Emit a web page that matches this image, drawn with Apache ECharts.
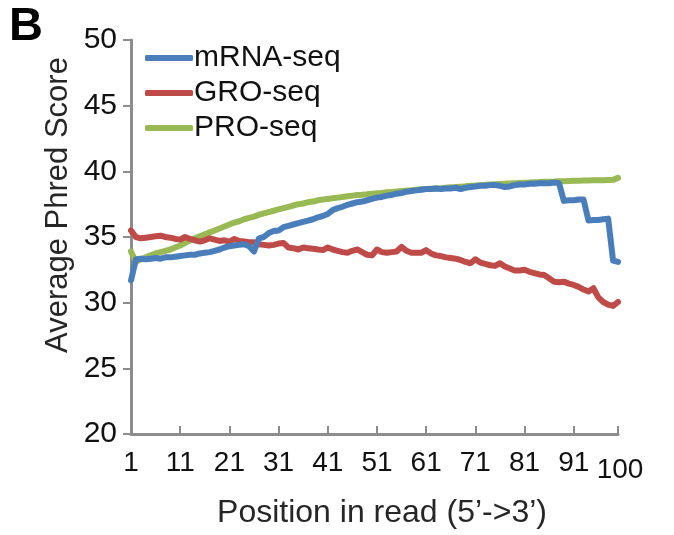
<!DOCTYPE html>
<html>
<head>
<meta charset="utf-8">
<title>Average Phred Score by read position</title>
<script src="https://cdn.jsdelivr.net/npm/echarts@6/dist/echarts.min.js"></script>
<style>
  html, body { margin: 0; padding: 0; background: #fff; }
  #chart { width: 674px; height: 535px; }
</style>
</head>
<body>
<div id="chart"></div>
<script>
// Read positions 1..100 along the x axis
const positions = [
  1,2,3,4,5,6,7,8,9,10,11,12,13,14,15,16,17,18,19,20,
  21,22,23,24,25,26,27,28,29,30,31,32,33,34,35,36,37,38,39,40,
  41,42,43,44,45,46,47,48,49,50,51,52,53,54,55,56,57,58,59,60,
  61,62,63,64,65,66,67,68,69,70,71,72,73,74,75,76,77,78,79,80,
  81,82,83,84,85,86,87,88,89,90,91,92,93,94,95,96,97,98,99,100
];

// Positions that carry a tick label
const labeledPositions = [1, 11, 21, 31, 41, 51, 61, 71, 81, 91, 100];

const yTicks = { min: 20, max: 50, step: 5 };

const mrnaSeq = [
  31.7,33.3,33.35,33.3,33.35,33.4,33.35,33.45,33.45,33.5,
  33.55,33.6,33.65,33.65,33.75,33.8,33.85,33.95,34.05,34.2,
  34.3,34.35,34.4,34.45,34.3,33.9,34.9,35.0,35.3,35.45,
  35.5,35.75,35.85,35.95,36.05,36.15,36.25,36.35,36.5,36.6,
  36.75,37.05,37.2,37.3,37.45,37.55,37.65,37.7,37.8,37.9,
  38.0,38.05,38.15,38.2,38.3,38.35,38.45,38.5,38.55,38.6,
  38.65,38.65,38.7,38.65,38.7,38.7,38.75,38.65,38.75,38.8,
  38.85,38.9,38.9,38.95,38.95,38.9,38.8,38.85,38.95,39.0,
  39.0,39.05,39.05,39.1,39.1,39.1,39.15,39.1,37.75,37.8,
  37.8,37.85,37.85,36.25,36.3,36.3,36.35,36.4,33.2,33.1
];

const groSeq = [
  35.5,35.0,34.9,34.95,35.0,35.05,35.1,35.0,34.95,34.85,
  34.8,35.0,34.85,34.75,34.65,34.75,34.9,34.8,34.7,34.75,
  34.65,34.85,34.7,34.65,34.6,34.6,34.45,34.4,34.35,34.4,
  34.5,34.55,34.2,34.15,34.05,34.2,34.15,34.1,34.05,34.0,
  34.2,34.05,33.95,33.85,33.8,33.95,34.05,33.85,33.65,33.6,
  34.05,33.85,33.8,33.85,33.9,34.25,33.95,33.8,33.8,33.8,
  34.0,33.75,33.6,33.55,33.45,33.4,33.35,33.25,33.1,33.0,
  33.3,33.05,32.95,32.85,32.8,33.0,32.75,32.6,32.45,32.45,
  32.5,32.35,32.25,32.15,32.1,31.85,31.6,31.55,31.6,31.45,
  31.35,31.2,31.0,30.85,31.1,30.4,30.05,29.85,29.75,30.05
];

const proSeq = [
  33.9,33.1,33.3,33.45,33.6,33.75,33.85,33.95,34.05,34.2,
  34.35,34.55,34.75,34.9,35.05,35.2,35.35,35.5,35.65,35.8,
  35.95,36.1,36.2,36.35,36.45,36.55,36.7,36.8,36.9,37.0,
  37.1,37.2,37.3,37.4,37.5,37.55,37.65,37.7,37.8,37.85,
  37.9,37.95,38.0,38.05,38.1,38.15,38.2,38.22,38.25,38.3,
  38.33,38.36,38.4,38.43,38.46,38.5,38.53,38.56,38.6,38.63,
  38.66,38.68,38.7,38.72,38.75,38.78,38.8,38.83,38.86,38.9,
  38.92,38.95,38.97,39.0,39.02,39.04,39.06,39.08,39.1,39.12,
  39.14,39.15,39.17,39.18,39.2,39.21,39.22,39.24,39.25,39.27,
  39.28,39.29,39.3,39.31,39.32,39.33,39.33,39.34,39.35,39.5
];

const seriesNames = ['mRNA-seq', 'GRO-seq', 'PRO-seq'];
const seriesColors = ['#4a7ebb', '#be4b48', '#98b954'];
const seriesValues = [mrnaSeq, groSeq, proSeq];

const FONT = '"Liberation Sans", Arial, Helvetica, sans-serif';
const AXIS_GRAY = '#8c8c8c';
const TEXT = '#111111';

const chart = echarts.init(document.getElementById('chart'), null, { renderer: 'canvas' });

const isLabeled = (idx) => labeledPositions.indexOf(positions[idx]) !== -1;

chart.setOption({
  animation: false,
  backgroundColor: '#ffffff',
  grid: { left: 131, right: 56, top: 40, bottom: 101, containLabel: false },
  legend: {
    orient: 'vertical',
    left: 140,
    top: 38,
    itemWidth: 48,
    itemHeight: 6,
    itemGap: 5,
    icon: 'roundRect',
    textStyle: { fontFamily: FONT, fontSize: 30, color: TEXT, padding: [0, 0, 0, -4] },
    data: seriesNames
  },
  xAxis: {
    type: 'category',
    data: positions.map(String),
    boundaryGap: false,
    axisLine: { lineStyle: { color: AXIS_GRAY, width: 3 } },
    axisTick: {
      inside: true,
      length: 8,
      interval: (idx) => isLabeled(idx),
      lineStyle: { color: AXIS_GRAY, width: 2 }
    },
    axisLabel: {
      interval: (idx) => isLabeled(idx),
      margin: 15,
      fontFamily: FONT,
      fontSize: 28,
      color: TEXT,
      formatter: (v) => (v === '100' ? '{last|100}' : v),
      rich: { last: { fontFamily: FONT, fontSize: 28, color: TEXT, padding: [7, 0, 0, 4] } }
    },
    splitLine: { show: false }
  },
  yAxis: {
    type: 'value',
    min: yTicks.min,
    max: yTicks.max,
    interval: yTicks.step,
    axisLine: { show: true, lineStyle: { color: AXIS_GRAY, width: 3 } },
    axisTick: { show: true, inside: false, length: 8, lineStyle: { color: AXIS_GRAY, width: 2 } },
    axisLabel: { margin: 14, fontFamily: FONT, fontSize: 30, color: TEXT },
    splitLine: { show: false }
  },
  graphic: [
    {
      type: 'text',
      left: 9,
      top: 4,
      style: { text: 'B', fontFamily: FONT, fontSize: 47, fontWeight: 'bold', fill: '#000' }
    },
    {
      type: 'text',
      x: 58,
      y: 205,
      rotation: Math.PI / 2,
      style: {
        text: 'Average Phred Score',
        fontFamily: FONT,
        fontSize: 31,
        fill: '#262626',
        textAlign: 'center',
        textVerticalAlign: 'middle'
      }
    },
    {
      type: 'text',
      x: 382,
      y: 513,
      style: {
        text: 'Position in read (5\u2019->3\u2019)',
        fontFamily: FONT,
        fontSize: 32,
        fill: '#262626',
        textAlign: 'center',
        textVerticalAlign: 'middle'
      }
    }
  ],
  series: seriesNames.map((name, i) => ({
    name,
    type: 'line',
    data: seriesValues[i],
    showSymbol: false,
    symbol: 'none',
    smooth: false,
    color: seriesColors[i],
    lineStyle: { width: 6, color: seriesColors[i], cap: 'round', join: 'round' },
    z: 3 - i
  }))
});
</script>
</body>
</html>
